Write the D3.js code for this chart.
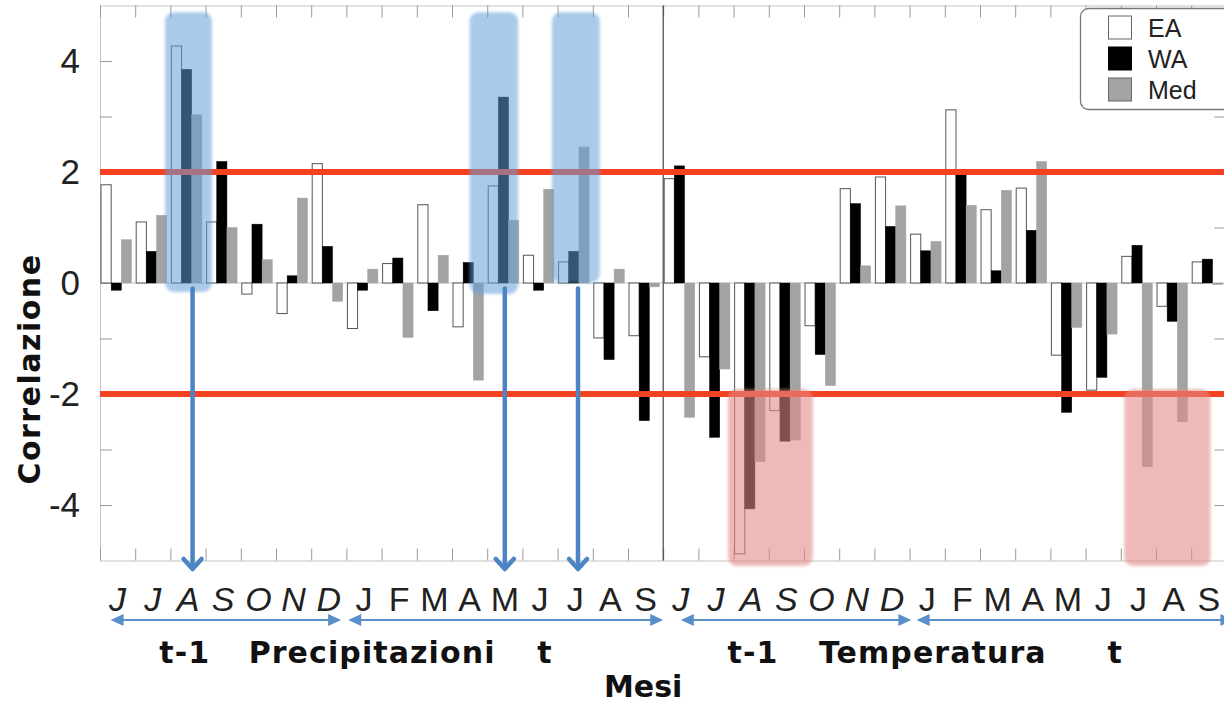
<!DOCTYPE html>
<html>
<head>
<meta charset="utf-8">
<style>
  body { margin: 0; background: #fff; }
  svg { display: block; }
  .tick-label { font-family: "Liberation Sans", Arial, sans-serif; font-size: 35px; fill: #222; }
  .month { font-family: "Liberation Sans", Arial, sans-serif; font-size: 34px; fill: #222; }
  .bold-label { font-family: "DejaVu Sans", sans-serif; font-weight: bold; font-size: 30px; fill: #111; }
  .legend-text { font-family: "Liberation Sans", Arial, sans-serif; font-size: 25px; fill: #222; }
</style>
</head>
<body>
<div id="chart"></div>
<script src="https://cdn.jsdelivr.net/npm/d3@7"></script>
<script>
// months: 16 for precipitation (t-1 Jun..Dec, t Jan..Sep), then 16 for temperature
var months = ["J","J","A","S","O","N","D","J","F","M","A","M","J","J","A","S",
              "J","J","A","S","O","N","D","J","F","M","A","M","J","J","A","S"];
var previousYear = [0,1,2,3,4,5,6,16,17,18,19,20,21,22];   // italic labels (t-1)

var seriesNames = ["EA", "WA", "Med"];
var eaValues  = [1.77, 1.10, 4.27, 1.10, -0.20, -0.55, 2.15, -0.82, 0.35, 1.41, -0.79, 1.75, 0.50, 0.38, -0.99, -0.95,
                 1.88, -1.33, -4.88, -2.30, -0.77, 1.70, 1.91, 0.88, 3.12, 1.32, 1.71, -1.30, -1.93, 0.48, -0.42, 0.38];
var waValues  = [-0.13, 0.57, 3.85, 2.19, 1.06, 0.13, 0.66, -0.13, 0.45, -0.50, 0.37, 3.35, -0.13, 0.57, -1.38, -2.48,
                 2.11, -2.78, -4.07, -2.85, -1.29, 1.43, 1.02, 0.58, 1.95, 0.22, 0.95, -2.33, -1.70, 0.68, -0.69, 0.43];
var medValues = [0.78, 1.22, 3.03, 1.00, 0.42, 1.53, -0.33, 0.25, -0.98, 0.50, -1.75, 1.13, 1.69, 2.45, 0.25, -0.07,
                 -2.42, -1.55, -3.22, -2.83, -1.85, 0.31, 1.39, 0.75, 1.40, 1.67, 2.19, -0.80, -0.92, -3.31, -2.50, -0.03];
var yTickValues = [-4, -3, -2, -1, 0, 1, 2, 3, 4];
var thresholds = [2, -2];

// highlighted months (in month units along x, correlation units along y)
var blueBoxes = [[1.85, 3.18, 4.88, -0.16], [10.5, 11.88, 4.88, -0.2], [12.84, 14.2, 4.88, 0.0]];
var redBoxes  = [[17.84, 20.25, -1.91, -5.1], [29.1, 31.55, -1.91, -5.1]];
var downArrows = [2.63, 11.5, 13.58];
var spanArrows = [[0.3, 6.85], [7.05, 16.0], [16.5, 23.05], [23.2, 32.2]];
var spanLabels = [["t-1", 2.41], ["Precipitazioni", 7.73], ["t", 12.64],
                  ["t-1", 18.55], ["Temperatura", 23.66], ["t", 28.84]];

var W = 1224, H = 703;
var svg = d3.select("#chart").append("svg").attr("width", W).attr("height", H);

var x = d3.scaleLinear().domain([0, 32]).range([100, 1226.4]);
var y = d3.scaleLinear().domain([-5, 5]).range([560.5, 5.5]);
var inner = d3.scaleBand().domain(seriesNames).range([1, 31.5]);
var colors = { EA: "#ffffff", WA: "#000000", Med: "#a3a3a3" };
var strokes = { EA: "#555", WA: "#000", Med: "#a3a3a3" };

var defs = svg.append("defs");
defs.append("filter").attr("id", "soft").append("feGaussianBlur").attr("stdDeviation", 1.6);

// frame and ticks
var frameColor = "#c4c4c4";
function styleAxis(g) {
  g.selectAll(".domain").attr("stroke", frameColor);
  g.selectAll(".tick line").attr("stroke", "#999");
}
svg.append("g").attr("transform", "translate(100,0)")
  .call(d3.axisLeft(y).tickValues(yTickValues).tickSize(-12).tickSizeOuter(0).tickPadding(20)
    .tickFormat(function(d) { return d % 2 === 0 ? String(d) : ""; }))
  .call(styleAxis)
  .selectAll("text").attr("class", "tick-label").attr("font-size", null).attr("font-family", null);
svg.append("g").attr("transform", "translate(" + x(32) + ",0)")
  .call(d3.axisRight(y).tickValues(yTickValues).tickSize(-12).tickSizeOuter(0).tickFormat(""))
  .call(styleAxis);
svg.append("g").attr("transform", "translate(0," + y(-5) + ")")
  .call(d3.axisBottom(x).tickValues(d3.range(0, 33)).tickSize(-12).tickSizeOuter(0).tickFormat(""))
  .call(styleAxis);
svg.append("g").attr("transform", "translate(0," + y(5) + ")")
  .call(d3.axisTop(x).tickValues(d3.range(0, 33)).tickSize(-12).tickSizeOuter(0).tickFormat(""))
  .call(styleAxis);

// zero line
svg.append("line").attr("x1", x(0)).attr("x2", x(32)).attr("y1", y(0)).attr("y2", y(0))
  .attr("stroke", "#c8c8c8").attr("stroke-width", 1);

// divider between precipitation and temperature
svg.append("line").attr("x1", x(16)).attr("x2", x(16)).attr("y1", y(5)).attr("y2", y(-5))
  .attr("stroke", "#444").attr("stroke-width", 1.2);

// bars
var table = months.map(function(m, i) {
  return { i: i, EA: eaValues[i], WA: waValues[i], Med: medValues[i] };
});
seriesNames.forEach(function(s) {
  svg.append("g").selectAll("rect").data(table).enter().append("rect")
    .attr("x", function(d) { return x(d.i) + inner(s); })
    .attr("width", inner.bandwidth())
    .attr("y", function(d) { return y(Math.max(0, d[s])); })
    .attr("height", function(d) { return Math.abs(y(d[s]) - y(0)); })
    .attr("fill", colors[s])
    .attr("stroke", strokes[s])
    .attr("stroke-width", s === "EA" ? 1 : 0.5);
});

// significance lines
svg.selectAll(".thr").data(thresholds).enter().append("line")
  .attr("x1", x(0)).attr("x2", W)
  .attr("y1", function(d) { return y(d); }).attr("y2", function(d) { return y(d); })
  .attr("stroke", "#f4411f").attr("stroke-width", 6);

// highlight boxes
function boxes(data, fill, op) {
  svg.append("g").selectAll("rect").data(data).enter().append("rect")
    .attr("x", function(d) { return x(d[0]); })
    .attr("width", function(d) { return x(d[1]) - x(d[0]); })
    .attr("y", function(d) { return y(d[2]); })
    .attr("height", function(d) { return y(d[3]) - y(d[2]); })
    .attr("rx", 9)
    .attr("fill", fill).attr("fill-opacity", op)
    .attr("filter", "url(#soft)");
}
boxes(blueBoxes, "#629dd9", 0.54);
boxes(redBoxes, "#e38888", 0.58);

// arrows from highlighted months down to the axis
var arrowBlue = "#4c84c4";
downArrows.forEach(function(u) {
  var g = svg.append("g").attr("stroke", arrowBlue).attr("fill", "none")
    .attr("stroke-width", 4.5).attr("stroke-linecap", "round").attr("stroke-linejoin", "round");
  g.append("line").attr("x1", x(u)).attr("x2", x(u)).attr("y1", y(-0.1)).attr("y2", 568);
  g.append("polyline").attr("points",
    [[x(u) - 9, 559], [x(u), 569], [x(u) + 9, 559]].map(function(p) { return p.join(","); }).join(" "));
});

// month labels
svg.append("g").selectAll("text").data(months).enter().append("text")
  .attr("class", "month")
  .attr("x", function(d, i) { return x(i + 0.5); })
  .attr("y", 611)
  .attr("text-anchor", "middle")
  .attr("font-style", function(d, i) { return previousYear.indexOf(i) >= 0 ? "italic" : "normal"; })
  .text(function(d) { return d; });

// double arrows for year spans
var spanColor = "#5a8fc9", ay = 620;
spanArrows.forEach(function(s) {
  var a = x(s[0]), b = x(s[1]);
  svg.append("line").attr("x1", a + 8).attr("x2", b - 8).attr("y1", ay).attr("y2", ay)
    .attr("stroke", spanColor).attr("stroke-width", 2.2);
  svg.append("path").attr("d", "M" + a + "," + ay + "l13,-6v12z").attr("fill", spanColor);
  svg.append("path").attr("d", "M" + b + "," + ay + "l-13,-6v12z").attr("fill", spanColor);
});

svg.append("g").selectAll("text").data(spanLabels).enter().append("text")
  .attr("class", "bold-label")
  .attr("x", function(d) { return x(d[1]); })
  .attr("y", 663)
  .attr("text-anchor", "middle")
  .attr("font-size", "31px")
  .attr("letter-spacing", 1.1)
  .text(function(d) { return d[0]; });

svg.append("text").attr("class", "bold-label")
  .attr("x", (x(0) + x(32)) / 2 - 20).attr("y", 697)
  .attr("text-anchor", "middle").text("Mesi");

svg.append("text").attr("class", "bold-label")
  .attr("transform", "translate(40," + (y(-1.55)) + ") rotate(-90)")
  .attr("text-anchor", "middle").attr("letter-spacing", 1.5)
  .text("Correlazione");

// legend
var legend = svg.append("g");
legend.append("rect").attr("x", 1080.5).attr("y", 8.5).attr("width", 170).attr("height", 101)
  .attr("rx", 8).attr("fill", "#fff").attr("stroke", "#777").attr("stroke-width", 1.3);
seriesNames.forEach(function(s, i) {
  var cy = 27 + i * 31;
  legend.append("rect").attr("x", 1108.5).attr("y", cy - 11).attr("width", 23).attr("height", 23)
    .attr("fill", colors[s]).attr("stroke", s === "WA" ? "#000" : "#666").attr("stroke-width", 1);
  legend.append("text").attr("class", "legend-text").attr("x", 1148).attr("y", cy + 9.5).text(s);
});
</script>
</body>
</html>
